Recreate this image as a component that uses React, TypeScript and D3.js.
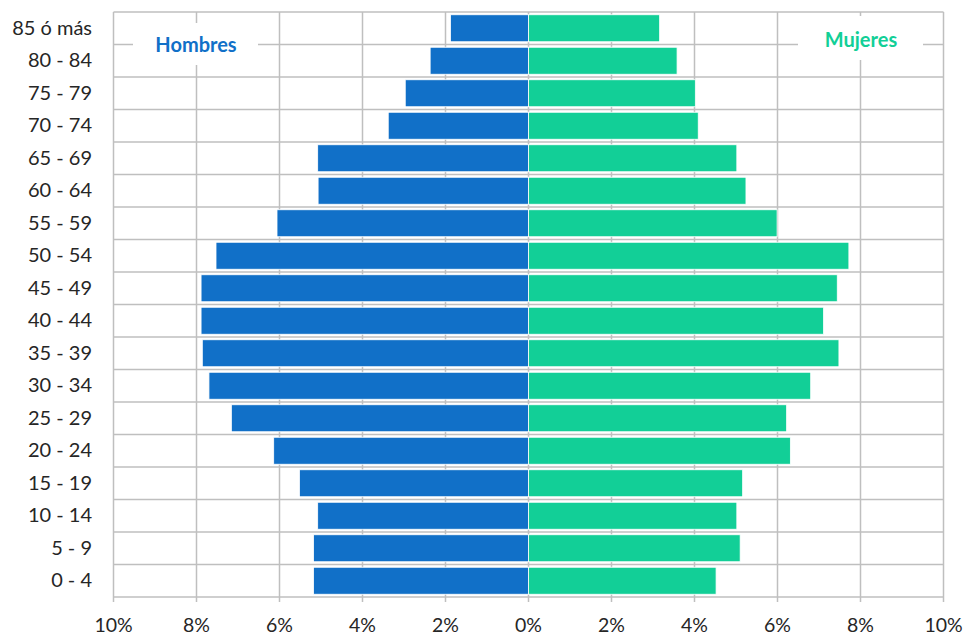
import React from "react";
import * as d3 from "d3";

const ageGroups = ["85 ó más","80 - 84","75 - 79","70 - 74","65 - 69","60 - 64","55 - 59","50 - 54","45 - 49","40 - 44","35 - 39","30 - 34","25 - 29","20 - 24","15 - 19","10 - 14","5 - 9","0 - 4"];
const hombres = [1.88,2.37,2.97,3.38,5.08,5.07,6.06,7.53,7.89,7.89,7.86,7.70,7.16,6.14,5.52,5.08,5.18,5.18];
const mujeres = [3.16,3.58,4.02,4.09,5.02,5.24,5.99,7.72,7.44,7.11,7.48,6.80,6.22,6.31,5.16,5.02,5.10,4.52];
const ticks = [-10,-8,-6,-4,-2,0,2,4,6,8,10];
const seriesNames = ["Hombres","Mujeres"];
const colors = ["#1170C8","#12CF97"];

const W = 966, H = 634;
const left = 113.5, right = 943.5, top = 12, bottom = 597;
const font = "Lato, 'Open Sans', sans-serif";

export default function App() {
  const x = d3.scaleLinear().domain([-10, 10]).range([left, right]);
  const y = d3.scaleBand<string>().domain(ageGroups).range([top, bottom]).paddingInner(0.17).paddingOuter(0.085);
  const step = y.step();
  const boundaries = d3.range(ageGroups.length + 1).map(i => top + i * step);
  const grid = "#bfbfbf";
  return (
    <div style={{ position: "absolute", left: 0, top: 0 }}>
      <svg width={W} height={H} style={{ display: "block", background: "#fff" }}>
        {boundaries.map((b, i) => (
          <line key={"h" + i} x1={left} x2={right} y1={b} y2={b} stroke={grid} strokeWidth={1.5} />
        ))}
        {ticks.map(t => (
          <line key={"v" + t} x1={x(t)} x2={x(t)} y1={top} y2={bottom + 5} stroke={grid} strokeWidth={1.5} />
        ))}
        <rect x={133} y={23} width={125} height={42} fill="#fff" />
        <rect x={798} y={16} width={125} height={44} fill="#fff" />
        <text x={196} y={44} textAnchor="middle" dominantBaseline="central" fontFamily={font} fontWeight="bold" fontSize={20} fill={colors[0]}>{seriesNames[0]}</text>
        <text x={861} y={39} textAnchor="middle" dominantBaseline="central" fontFamily={font} fontWeight="bold" fontSize={20} fill={colors[1]}>{seriesNames[1]}</text>
        {ageGroups.map((g, i) => (
          <g key={g}>
            <rect x={x(-hombres[i])} y={y(g)} width={x(0) - x(-hombres[i])} height={y.bandwidth()} fill={colors[0]} stroke="#fff" strokeWidth={0.8} />
            <rect x={x(0)} y={y(g)} width={x(mujeres[i]) - x(0)} height={y.bandwidth()} fill={colors[1]} stroke="#fff" strokeWidth={0.8} />
          </g>
        ))}
        {ageGroups.map(g => (
          <text key={"l" + g} x={92} y={(y(g) as number) + y.bandwidth() / 2 - 1.5} textAnchor="end" dominantBaseline="central" fontFamily={font} fontSize={20} fill="#262626">{g}</text>
        ))}
        {ticks.map(t => (
          <text key={"t" + t} x={x(t)} y={624} textAnchor="middle" dominantBaseline="central" fontFamily={font} fontSize={19.5} fill="#262626">{Math.abs(t) + "%"}</text>
        ))}
      </svg>
    </div>
  );
}
